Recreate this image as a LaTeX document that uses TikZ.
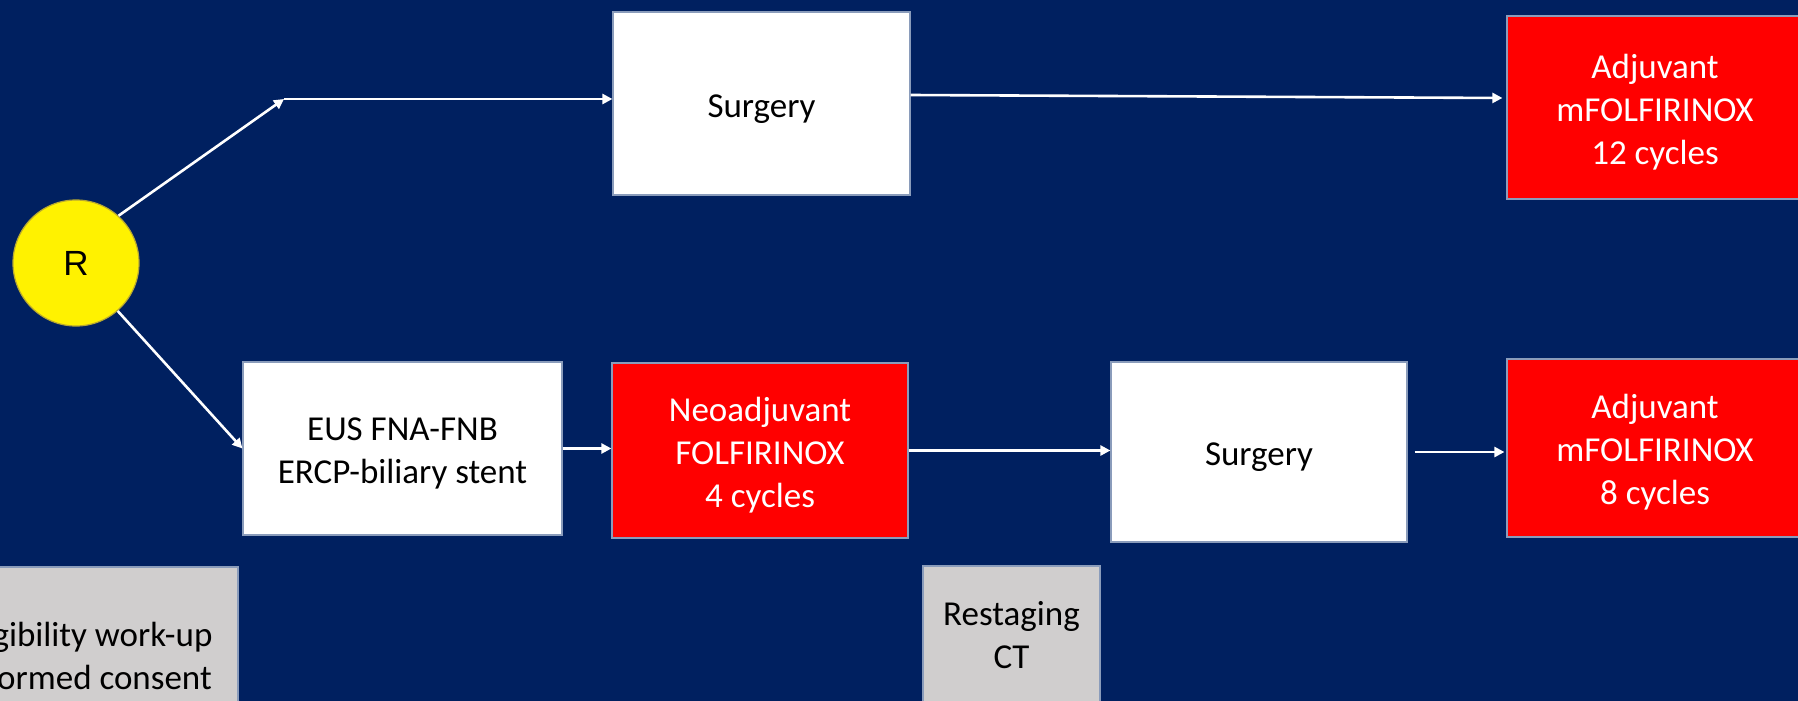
\documentclass[tikz,border=0pt]{standalone}
\usepackage{fontspec}
\setmainfont{Carlito}
\newfontfamily\arialfont{Liberation Sans}
\usetikzlibrary{arrows.meta}
\definecolor{navy}{HTML}{002060}
\definecolor{boxred}{HTML}{FF0000}
\definecolor{boxgrey}{HTML}{D0CECE}
\definecolor{boxline}{HTML}{8A9CBB}
\definecolor{circline}{HTML}{B8A830}
% centred lines of box text, set a little below the box centre
\newcommand{\boxlines}[1]{\raisebox{-2.5pt}[\height][\depth]{\begin{tabular}{@{}c@{}}#1\end{tabular}}}
\begin{document}
\begin{tikzpicture}[x=0.5pt,y=-0.5pt,
  box/.style={rectangle, draw=boxline, line width=0.6pt, inner sep=0pt,
    font=\fontsize{17.5}{21.5}\selectfont},
  whitebox/.style={box, fill=white, text=black},
  redbox/.style={box, fill=boxred, text=white},
  greybox/.style={rectangle, draw=boxline, line width=0.6pt, fill=boxgrey, inner sep=0pt},
  note/.style={align=center, inner sep=0pt, text=black,
    font=\fontsize{17.5}{21.5}\selectfont},
  arr/.style={draw=white, line width=1.3pt,
    -{Triangle[length=5pt,width=5pt]}}]
% canvas
\useasboundingbox (0,0) rectangle (1798,701);
\fill[navy] (0,0) rectangle (1798,701);

% randomisation
\node[circle, fill=yellow, draw=circline, line width=0.6pt,
  minimum size=63pt, inner sep=0pt, font=\arialfont\fontsize{17.5}{21}\selectfont]
  (R) at (76,263) {R};

% upper arm
\coordinate (fork) at (284,99);
\node[whitebox, minimum width=148.5pt, minimum height=91.5pt] (surg1) at (761.5,103.5)
  {\boxlines{Surgery}};
\node[redbox, minimum width=148pt, minimum height=91.5pt] (adj1) at (1655,107.5)
  {\boxlines{Adjuvant\\mFOLFIRINOX\\12 cycles}};

% lower arm
\node[whitebox, minimum width=159.5pt, minimum height=86.5pt] (eus) at (402.5,448.5)
  {\boxlines{EUS FNA-FNB\\ERCP-biliary stent}};
\node[redbox, minimum width=148pt, minimum height=87.5pt] (neo) at (760,450.5)
  {\boxlines{Neoadjuvant\\FOLFIRINOX\\4 cycles}};
\node[whitebox, minimum width=148pt, minimum height=90pt] (surg2) at (1259,452)
  {\boxlines{Surgery}};
\node[redbox, minimum width=148pt, minimum height=89pt] (adj2) at (1655,448)
  {\boxlines{Adjuvant\\mFOLFIRINOX\\8 cycles}};

% grey notes
\node[greybox, minimum width=152pt, minimum height=96.5pt] (eligbox) at (86,663.5) {};
\node[note] (elig) at (86,656) {Eligibility work-up\\Informed consent};
\node[greybox, minimum width=88.5pt, minimum height=114pt] (restbox) at (1011.5,680) {};
\node[note] (rest) at (1011.5,635.5) {Restaging\\CT};

% connectors
\draw[arr] (R.48) -- (fork);
\draw[arr] (fork) -- (fork -| surg1.west);
\draw[arr] ([yshift=4.25pt]surg1.east) -- ([yshift=4.75pt,xshift=-2pt]adj1.west);
\draw[arr] (R.-49) -- (eus.west);
\draw[arr] (eus.east) -- (eus.east -| neo.west);
\draw[arr] (neo.east) -- (neo.east -| surg2.west);
\draw[arr, shorten <=3.5pt] (surg2.east) -- ([xshift=-1pt]surg2.east -| adj2.west);
\end{tikzpicture}
\end{document}
